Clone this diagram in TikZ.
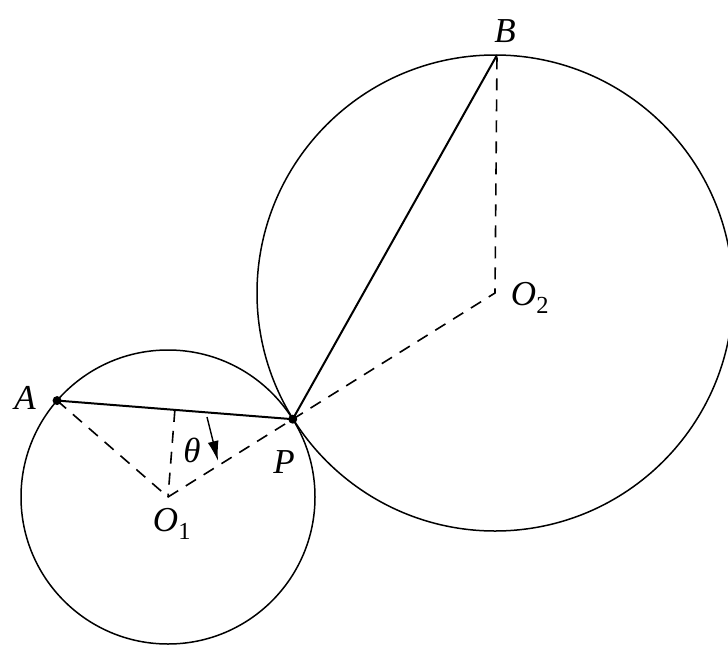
\documentclass[tikz,border=0pt]{standalone}
\usepackage{fontspec}
\setmainfont{Liberation Serif}
\usetikzlibrary{calc,arrows.meta}
\begin{document}
\begin{tikzpicture}[x=1pt,y=-1pt,
  circ/.style={line width=1.5pt},
  seg/.style={line width=2pt},
  dsh/.style={line width=1.6pt,dash pattern=on 12pt off 9pt},
  lbl/.style={font=\fontsize{35}{40}\selectfont\itshape,inner sep=0pt},
  dotp/.style={circle,fill,inner sep=0pt,minimum size=9pt}]
\useasboundingbox (0,0) rectangle (728,653);
\coordinate (O1) at (168,497);
\coordinate (O2) at (495,293);
\draw[circ] (O1) circle[radius=147];
\draw[circ] (O2) circle[radius=238];
\coordinate (P) at ($(O1)!147/385.4!(O2)$);
\coordinate (A) at ($(O1)+(139:147 and -147)$);
\coordinate (B) at (497,55);
\coordinate (M) at ($(A)!0.5!(P)$);
\coordinate (T1) at (207,417);
\coordinate (T2) at (218,461);
\draw[seg] (A) -- (P) -- (B);
\draw[dsh] (A) -- (O1) -- (P) -- (O2) -- (B);
\draw[dsh] (M) -- (O1);
\draw[line width=1.4pt,-{Latex[length=20pt,width=11pt]}] (T1) -- (T2);
\node[dotp] (pA) at (A) {};
\node[dotp] (pP) at (P) {};
\node[lbl] (lA) at (25,398) {A};
\node[lbl] (lB) at (505,31) {B};
\node[lbl] (lP) at (284,462) {P};
\node[lbl] (lt) at (192,450) {θ};
\node[lbl] (lO1) at (172,524) {O\textsubscript{\upshape 1}};
\node[lbl] (lO2) at (530,298) {O\textsubscript{\upshape 2}};
\end{tikzpicture}
\end{document}
